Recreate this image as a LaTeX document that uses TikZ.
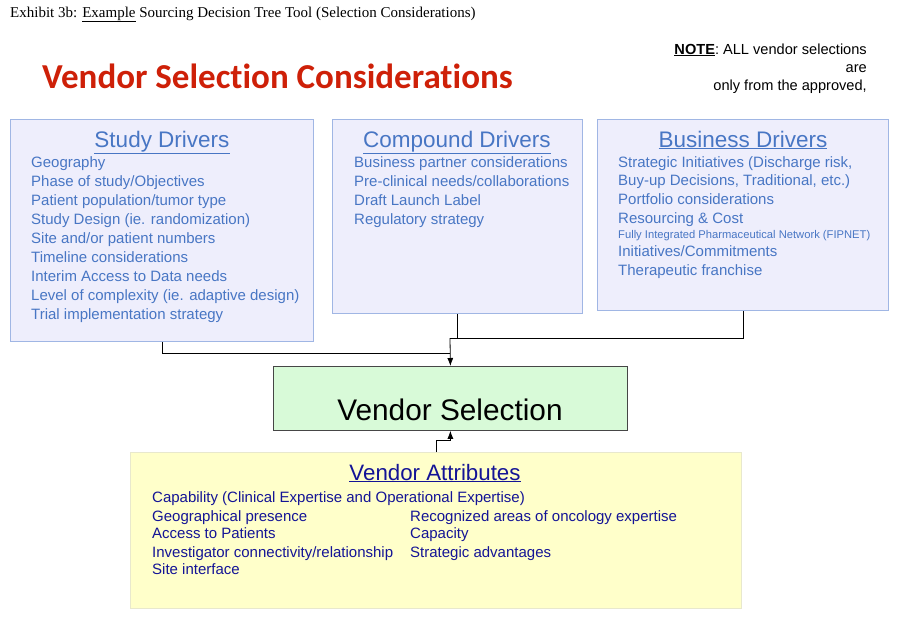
\documentclass[tikz,border=0pt]{standalone}
\usepackage{fontspec}
\setmainfont{Liberation Sans}
\newfontfamily\seriffont{Liberation Serif}
\newfontfamily\titlefont[Ligatures=NoCommon]{Carlito}
\usetikzlibrary{arrows.meta}
\definecolor{titlered}{RGB}{206,32,8}
\definecolor{drvblue}{RGB}{72,118,196}
\definecolor{drvfill}{RGB}{238,238,252}
\definecolor{drvline}{RGB}{160,182,228}
\definecolor{selfill}{RGB}{216,250,216}
\definecolor{selline}{RGB}{70,70,70}
\definecolor{attfill}{RGB}{255,255,202}
\definecolor{attline}{RGB}{232,232,205}
\definecolor{attnavy}{RGB}{20,20,150}
\tikzset{
  drvbox/.style={draw=drvline, fill=drvfill, line width=1pt, anchor=north west, inner sep=0pt},
  drvhead/.style={text=drvblue, font=\fontsize{22.5}{24}\selectfont, anchor=base, inner sep=0pt},
  drvitem/.style={text=drvblue, font=\fontsize{15}{16}\selectfont, anchor=base west, inner sep=0pt},
  attitem/.style={text=attnavy, font=\fontsize{15}{16}\selectfont, anchor=base west, inner sep=0pt},
  notetext/.style={anchor=base east, inner sep=0pt, font=\fontsize{14.6}{16}\selectfont},
  wire/.style={draw=black, line width=0.8pt},
  arr/.style={wire, -{Latex[length=8pt,width=6pt]}},
}
\begin{document}
\begin{tikzpicture}[x=1pt,y=-1pt]
\useasboundingbox[fill=white] (0,0) rectangle (900,630);
% caption
\node[anchor=base west, inner sep=0pt, font=\seriffont\fontsize{15}{16}\selectfont] (cap) at (10,17)
  {Exhibit 3b: \underline{Example} Sourcing Decision Tree Tool (Selection Considerations)};
% title
\node[anchor=base west, inner sep=0pt, text=titlered, font=\titlefont\bfseries\fontsize{35}{38}\selectfont] (title) at (42,88)
  {Vendor Selection Considerations};
% note
\node[notetext] (note1) at (867,54) {\textbf{\underline{NOTE}}:~ALL vendor selections};
\node[notetext] (note2) at (867,72) {are};
\node[notetext] (note3) at (867,90) {only from the approved,};
% boxes
\node[drvbox, minimum width=303pt, minimum height=222pt] (study) at (10,119) {};
\node[drvbox, minimum width=250pt, minimum height=194pt] (compound) at (332,119) {};
\node[drvbox, minimum width=291pt, minimum height=191pt] (business) at (597,119) {};
\node[draw=selline, fill=selfill, line width=0.8pt, minimum width=354pt, minimum height=64pt, anchor=north west, inner sep=0pt] (vs) at (273,366) {};
\node[anchor=base, inner sep=0pt, font=\fontsize{29.8}{32}\selectfont] (vstext) at (450,420) {Vendor Selection};
\node[draw=attline, fill=attfill, line width=0.8pt, minimum width=611pt, minimum height=156pt, anchor=north west, inner sep=0pt] (attr) at (130,452) {};
% study drivers
\node[drvhead] (sdh) at (162,147) {\underline{Study Drivers}};
\foreach \t [count=\i] in {Geography, Phase of study/Objectives, Patient population/tumor type,
  Study Design (ie. randomization), Site and/or patient numbers, Timeline considerations,
  Interim Access to Data needs, Level of complexity (ie. adaptive design), Trial implementation strategy}
  \node[drvitem] (sd\i) at (31,{167+19.05*(\i-1)}) {\t};
% compound drivers
\node[drvhead] (cdh) at (457,147) {\underline{Compound Drivers}};
\foreach \t [count=\i] in {Business partner considerations, Pre-clinical needs/collaborations,
  Draft Launch Label, Regulatory strategy}
  \node[drvitem] (cd\i) at (354,{167+19*(\i-1)}) {\t};
% business drivers
\node[drvhead] (bdh) at (743,147) {\underline{Business Drivers}};
\node[drvitem] (bd1) at (618,167) {Strategic Initiatives (Discharge risk,};
\node[drvitem] (bd2) at (618,185) {Buy-up Decisions, Traditional, etc.)};
\node[drvitem] (bd3) at (618,204) {Portfolio considerations};
\node[drvitem] (bd4) at (618,223) {Resourcing \& Cost};
\node[drvitem, font=\fontsize{11.2}{12}\selectfont] (bd5) at (618,238) {Fully Integrated Pharmaceutical Network (FIPNET)};
\node[drvitem] (bd6) at (618,256) {Initiatives/Commitments};
\node[drvitem] (bd7) at (618,275) {Therapeutic franchise};
% vendor attributes
\node[anchor=base, inner sep=0pt, text=attnavy, font=\fontsize{22.3}{24}\selectfont] (vah) at (435,480) {\underline{Vendor Attributes}};
\node[attitem] (va1) at (152,502) {Capability (Clinical Expertise and Operational Expertise)};
\node[attitem] (va2) at (152,521) {Geographical presence};
\node[attitem] (va3) at (152,538) {Access to Patients};
\node[attitem] (va4) at (152,557) {Investigator connectivity/relationship};
\node[attitem] (va5) at (152,574) {Site interface};
\node[attitem] (va6) at (410,521) {Recognized areas of oncology expertise};
\node[attitem] (va7) at (410,538) {Capacity};
\node[attitem] (va8) at (410,557) {Strategic advantages};
% connectors
\coordinate (j1) at (450,338);
\coordinate (j2) at (450,353);
\draw[wire] (study.south) |- (j2);
\draw[wire] (compound.south) |- (j1);
\draw[wire] (business.south) |- (j1);
\draw[arr] (j1) -- (vs.north);
\draw[arr] (attr.north) -- ++(0,-12) -| (vs.south);
\end{tikzpicture}
\end{document}
